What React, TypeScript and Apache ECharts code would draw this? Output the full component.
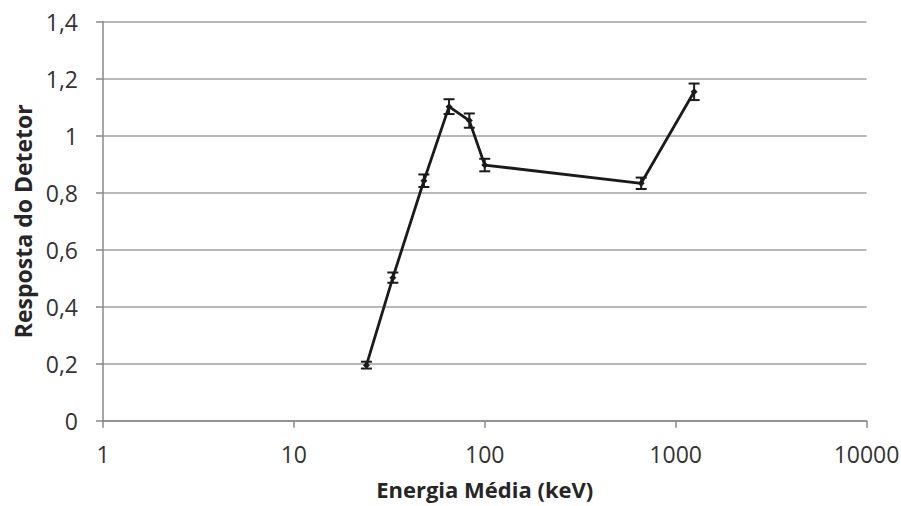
import React, { useEffect, useRef } from "react";
import * as echarts from "echarts";

const energies = [24, 33, 48, 65, 83, 100, 660, 1250];
const responses = [0.195, 0.502, 0.842, 1.102, 1.053, 0.897, 0.833, 1.154];
const errors = [0.012, 0.018, 0.022, 0.026, 0.025, 0.022, 0.02, 0.029];
const xTitle = "Energia Média (keV)";
const yTitle = "Resposta do Detetor";

const FONT = "'Open Sans', 'DejaVu Sans', sans-serif";
const AXIS_COLOR = "#888888";
const GRID_COLOR = "#a0a0a0";

export default function App() {
  const ref = useRef<HTMLDivElement>(null);

  useEffect(() => {
    if (!ref.current) return;
    const chart = echarts.init(ref.current, undefined, { renderer: "svg" });

    const linePoints = energies.map((e, i) => [e, responses[i]]);
    const errData = energies.map((e, i) => [e, responses[i] - errors[i], responses[i] + errors[i]]);

    const fmtY = (v: number) => {
      if (Math.abs(v - Math.round(v)) < 1e-9) return String(Math.round(v));
      return v.toFixed(1).replace(".", ",");
    };

    chart.setOption({
      animation: false,
      backgroundColor: "#ffffff",
      grid: {
        left: 103,
        right: 34.5,
        top: 21.7,
        bottom: 85.3,
        containLabel: false,
        outerBoundsMode: "none",
      },
      xAxis: {
        type: "log",
        logBase: 10,
        min: 1,
        max: 10000,
        name: xTitle,
        nameLocation: "middle",
        nameGap: 57,
        nameTextStyle: { fontFamily: FONT, fontSize: 22, fontWeight: "bold", color: "#262626" },
        axisLine: { show: true, lineStyle: { color: AXIS_COLOR, width: 1.5 } },
        axisTick: { show: true, length: 7, lineStyle: { color: AXIS_COLOR, width: 1.5 } },
        minorTick: { show: false },
        splitLine: { show: false },
        axisLabel: {
          fontFamily: FONT,
          fontSize: 23,
          color: "#333333",
          margin: 22,
          formatter: (v: number) => String(Math.round(v)),
        },
      },
      yAxis: {
        type: "value",
        min: 0,
        max: 1.4,
        interval: 0.2,
        name: yTitle,
        nameLocation: "middle",
        nameRotate: 90,
        nameGap: 69,
        nameTextStyle: { fontFamily: FONT, fontSize: 23, fontWeight: "bold", color: "#262626" },
        axisLine: { show: true, lineStyle: { color: AXIS_COLOR, width: 1.5 } },
        axisTick: { show: true, length: 7, lineStyle: { color: AXIS_COLOR, width: 1.5 } },
        splitLine: { show: true, lineStyle: { color: GRID_COLOR, width: 1.5 } },
        axisLabel: {
          fontFamily: FONT,
          fontSize: 23,
          color: "#333333",
          margin: 25,
          formatter: fmtY,
        },
      },
      series: [
        {
          type: "line",
          data: linePoints,
          symbol: "diamond",
          symbolSize: 7,
          showSymbol: true,
          lineStyle: { color: "#1a1a1a", width: 2.8 },
          itemStyle: { color: "#1a1a1a" },
          z: 3,
        },
        {
          type: "custom",
          data: errData,
          z: 4,
          renderItem: (params: any, api: any) => {
            const x = api.value(0);
            const lo = api.coord([x, api.value(1)]);
            const hi = api.coord([x, api.value(2)]);
            const hw = 5.5;
            const style = { stroke: "#1a1a1a", lineWidth: 2 };
            return {
              type: "group",
              children: [
                { type: "line", shape: { x1: lo[0], y1: lo[1], x2: hi[0], y2: hi[1] }, style },
                { type: "line", shape: { x1: lo[0] - hw, y1: lo[1], x2: lo[0] + hw, y2: lo[1] }, style },
                { type: "line", shape: { x1: hi[0] - hw, y1: hi[1], x2: hi[0] + hw, y2: hi[1] }, style },
              ],
            };
          },
        },
      ],
    });

    return () => chart.dispose();
  }, []);

  return (
    <div
      ref={ref}
      style={{ position: "fixed", left: 0, top: 0, width: 901, height: 506, background: "#fff" }}
    />
  );
}
